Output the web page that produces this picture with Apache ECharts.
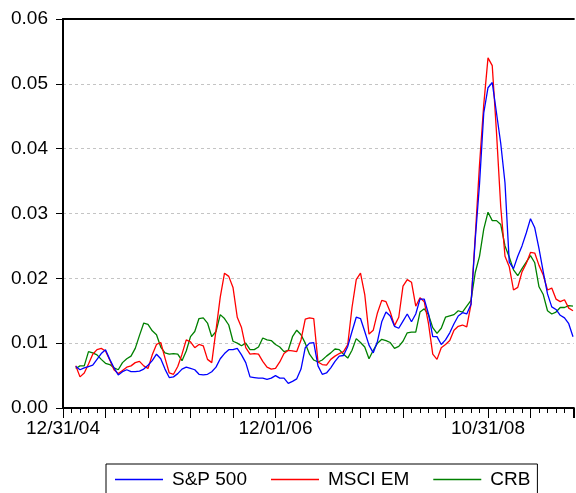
<!DOCTYPE html>
<html>
<head>
<meta charset="utf-8">
<script src="https://cdn.jsdelivr.net/npm/echarts@6/dist/echarts.min.js"></script>
<style>
html,body{margin:0;padding:0;background:#fff;}
#c{width:576px;height:493px;}
</style>
</head>
<body>
<div id="c"></div>
<script>
// Observation numbering (trading days since 12/31/04); samples every 10 observations
const firstObs = 30;
const obsStep = 10;
const lastObs = 1202;

// Axis labels: observation number -> date label
const xLabelObs = [0, 500, 1000];
const xLabelText = ['12/31/04', '12/01/06', '10/31/08'];

const seriesNames = ['S&P 500', 'MSCI EM', 'CRB'];

const sp500 = [
0.0064,0.0059,0.0062,0.0064,0.0066,0.0075,0.0084,0.0090,0.0075,0.0062,
0.0051,0.0056,0.0059,0.0056,0.0056,0.0057,0.0060,0.0066,0.0073,0.0083,
0.0076,0.0060,0.0047,0.0048,0.0053,0.0060,0.0063,0.0061,0.0059,0.0052,
0.0051,0.0052,0.0056,0.0063,0.0076,0.0084,0.0090,0.0090,0.0092,0.0082,
0.0070,0.0048,0.0047,0.0046,0.0046,0.0044,0.0046,0.0050,0.0046,0.0046,
0.0038,0.0041,0.0045,0.0060,0.0093,0.0100,0.0101,0.0065,0.0052,0.0054,
0.0062,0.0072,0.0080,0.0081,0.0095,0.0118,0.0140,0.0138,0.0118,0.0097,
0.0085,0.0103,0.0133,0.0148,0.0142,0.0126,0.0123,0.0134,0.0145,0.0133,
0.0145,0.0168,0.0168,0.0145,0.0110,0.0110,0.0098,0.0105,0.0116,0.0130,
0.0142,0.0147,0.0145,0.0160,0.0260,0.0345,0.0455,0.0494,0.0502,0.0455,
0.0408,0.0347,0.0225,0.0215,0.0234,0.0250,0.0270,0.0292,0.0278,0.0246,
0.0210,0.0176,0.0156,0.0152,0.0143,0.0139,0.0130,0.0110];

const msciEM = [
0.0065,0.0048,0.0054,0.0068,0.0083,0.0090,0.0092,0.0088,0.0074,0.0059,
0.0053,0.0058,0.0063,0.0065,0.0070,0.0072,0.0065,0.0061,0.0082,0.0098,
0.0101,0.0077,0.0054,0.0052,0.0064,0.0083,0.0105,0.0102,0.0093,0.0098,
0.0096,0.0075,0.0070,0.0120,0.0171,0.0208,0.0203,0.0186,0.0140,0.0124,
0.0093,0.0083,0.0084,0.0083,0.0072,0.0063,0.0060,0.0061,0.0071,0.0084,
0.0089,0.0088,0.0087,0.0105,0.0137,0.0139,0.0138,0.0071,0.0067,0.0066,
0.0075,0.0080,0.0084,0.0087,0.0098,0.0155,0.0198,0.0208,0.0175,0.0114,
0.0120,0.0147,0.0166,0.0164,0.0148,0.0127,0.0140,0.0188,0.0198,0.0194,
0.0157,0.0170,0.0164,0.0130,0.0083,0.0075,0.0093,0.0098,0.0104,0.0120,
0.0126,0.0128,0.0125,0.0160,0.0265,0.0375,0.0468,0.0540,0.0528,0.0425,
0.0310,0.0234,0.0218,0.0182,0.0186,0.0210,0.0223,0.0240,0.0239,0.0220,
0.0205,0.0182,0.0185,0.0168,0.0164,0.0167,0.0154,0.0150];

const crb = [
0.0061,0.0065,0.0065,0.0087,0.0085,0.0082,0.0075,0.0069,0.0067,0.0062,
0.0059,0.0070,0.0076,0.0080,0.0092,0.0112,0.0131,0.0129,0.0119,0.0113,
0.0094,0.0085,0.0083,0.0084,0.0083,0.0073,0.0088,0.0110,0.0118,0.0138,
0.0139,0.0131,0.0110,0.0118,0.0144,0.0138,0.0128,0.0103,0.0100,0.0096,
0.0100,0.0090,0.0090,0.0094,0.0108,0.0105,0.0104,0.0098,0.0094,0.0087,
0.0089,0.0110,0.0120,0.0113,0.0100,0.0083,0.0074,0.0071,0.0074,0.0080,
0.0085,0.0091,0.0090,0.0083,0.0077,0.0089,0.0107,0.0101,0.0094,0.0076,
0.0089,0.0100,0.0106,0.0104,0.0101,0.0092,0.0095,0.0103,0.0116,0.0117,
0.0117,0.0148,0.0153,0.0144,0.0124,0.0115,0.0123,0.0140,0.0142,0.0144,
0.0150,0.0148,0.0157,0.0166,0.0209,0.0234,0.0276,0.0302,0.0289,0.0289,
0.0283,0.0250,0.0233,0.0213,0.0204,0.0215,0.0225,0.0235,0.0224,0.0187,
0.0175,0.0150,0.0145,0.0148,0.0155,0.0155,0.0158,0.0157];

const colors = ['#0000ff', '#ff0000', '#008000'];
const FONT = '"Liberation Sans", Arial, sans-serif';

function pairs(vals) {
  return vals.map((v, i) => [firstObs + i * obsStep, v]);
}

const chart = echarts.init(document.getElementById('c'), null, {renderer: 'canvas'});
chart.setOption({
  animation: false,
  backgroundColor: '#fff',
  grid: {left: 63, right: 0, top: 19, bottom: 85, containLabel: false},
  xAxis: [{
    type: 'value', min: 0, max: lastObs, interval: 100, position: 'bottom',
    axisLine: {show: true, onZero: false, lineStyle: {color: '#000', width: 2}},
    axisTick: {show: true, inside: false, length: 10, lineStyle: {color: '#000', width: 1}},
    minorTick: {show: true, splitNumber: 5, length: 5, lineStyle: {color: '#000', width: 1}},
    axisLabel: {
      margin: 11, color: '#000', fontSize: 19, fontFamily: FONT,
      showMaxLabel: false,
      formatter: function (v) { const k = xLabelObs.indexOf(v); return k >= 0 ? xLabelText[k] : ''; }
    },
    splitLine: {show: false}, minorSplitLine: {show: false}
  }, {
    type: 'value', min: 0, max: lastObs, position: 'top',
    axisLine: {show: true, onZero: false, lineStyle: {color: '#000', width: 2}},
    axisTick: {show: false}, axisLabel: {show: false}, splitLine: {show: false}
  }],
  yAxis: {
    type: 'value', min: 0, max: 0.06, interval: 0.01,
    axisLine: {show: true, onZero: false, lineStyle: {color: '#000', width: 2}},
    axisTick: {show: true, inside: false, length: 7, lineStyle: {color: '#000', width: 1}},
    axisLabel: {margin: 15, color: '#000', fontSize: 19, fontFamily: FONT,
      formatter: function (v) { return v.toFixed(2); }},
    splitLine: {show: true, lineStyle: {color: '#c4c4c4', width: 1, type: [3, 3]}}
  },
  legend: {
    left: 106, top: 464, orient: 'horizontal',
    borderColor: '#000', borderWidth: 1, padding: [6, 7, 10, 9],
    itemWidth: 48, itemHeight: 1.5, itemGap: 24, icon: 'rect',
    textStyle: {fontSize: 19, color: '#000', fontFamily: FONT, padding: [0, 0, 0, 4]},
    data: seriesNames
  },
  series: [sp500, msciEM, crb].map((vals, i) => ({
    name: seriesNames[i], type: 'line', data: pairs(vals),
    xAxisIndex: 0, symbol: 'none', smooth: false,
    lineStyle: {color: colors[i], width: 1.3}, itemStyle: {color: colors[i]},
    z: [3, 2, 1][i]
  }))
});
</script>
</body>
</html>
